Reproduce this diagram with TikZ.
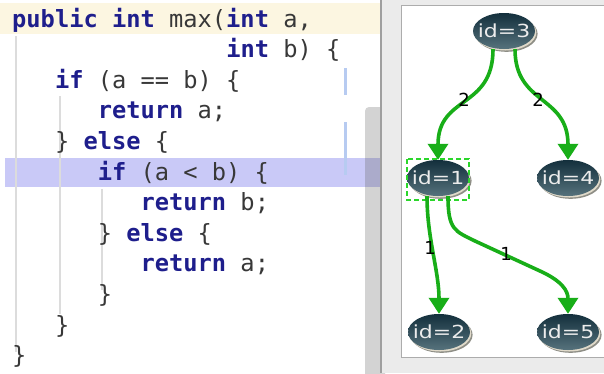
\documentclass[tikz,border=0pt]{standalone}
\usepackage{fontspec}
\usetikzlibrary{arrows.meta,shapes.geometric}
\newfontfamily\codefont{DejaVu Sans Mono}
\newfontfamily\graphfont{DejaVu Sans}
\definecolor{kwc}{HTML}{1E1E8C}
\definecolor{txt}{HTML}{383838}
\definecolor{curline}{HTML}{FCF6E1}
\definecolor{selline}{HTML}{C9C9F7}
\definecolor{selbar}{HTML}{ABABCB}
\definecolor{sbar}{HTML}{D3D3D3}
\definecolor{frame}{HTML}{EBEBEB}
\definecolor{guide}{HTML}{DCDCDC}
\definecolor{chgmark}{HTML}{B7CBF1}
\definecolor{edgec}{HTML}{18AE18}
\definecolor{selc}{HTML}{2BD62B}
\definecolor{nodetop}{HTML}{132F3C}
\definecolor{nodebot}{HTML}{56727C}
\definecolor{rim}{HTML}{E0DACA}
\definecolor{shade}{HTML}{8E8E86}
\newcommand\kwd[1]{\textcolor{kwc}{\bfseries #1}}
\newcommand\idtext[1]{\makebox[0pt]{\scalebox{1.22}[1]{#1}}}
\tikzset{
  codeline/.style={anchor=base west, inner sep=0pt, text=txt,
    font=\codefont\fontsize{23.7}{28}\selectfont},
  vbase/.style={ellipse, minimum width=62pt, minimum height=36pt, inner sep=0pt},
  vnode/.style={vbase, top color=nodetop, bottom color=nodebot,
    text=white!85!gray, font=\graphfont\fontsize{18}{20}\selectfont},
  vshadow/.style={vbase, fill=shade},
  vrim/.style={vbase, fill=rim},
  flow/.style={draw=edgec, line width=3.6pt, -{Triangle[width=20pt,length=16pt]}},
  weight/.style={inner sep=0pt, text=black, font=\graphfont\fontsize{18}{20}\selectfont},
}
\begin{document}
\begin{tikzpicture}[x=1pt,y=-1pt]
\useasboundingbox (0,0) rectangle (604,373);
% editor background
\fill[white] (0,0) rectangle (604,373);
\fill[curline] (0,3) rectangle (380,34);
\fill[selline] (5,158) rectangle (365,187);
\fill[sbar,rounded corners=4pt] (365,107) rectangle (385,380);
\fill[selbar] (365,158) rectangle (380,187);
\fill[frame] (380,0) rectangle (604,373);
\draw[gray!75,line width=1.5pt] (381,0) -- (381,373);
% graph view frame
\draw[fill=white,draw=gray!65,line width=1pt] (401,5) rectangle (612,357);
% indent guides
\draw[guide,line width=1.2pt] (16,36) -- (16,352);
\draw[guide,line width=1.2pt] (60,96) -- (60,314);
\draw[guide,line width=1.2pt] (102,189) -- (102,290);
% change markers
\draw[chgmark,line width=3pt] (345,68) -- (345,95);
\draw[chgmark,line width=3pt] (345,122) -- (345,175);
% source code
\node[codeline] (l1) at (12,27) {\kwd{public} \kwd{int} max(\kwd{int} a,};
\node[codeline] (l2) at (226.1,57.6) {\kwd{int} b) \{};
\node[codeline] (l3) at (54.8,88.2) {\kwd{if} (a == b) \{};
\node[codeline] (l4) at (97.6,118.8) {\kwd{return} a;};
\node[codeline] (l5) at (54.8,149.4) {\} \kwd{else} \{};
\node[codeline] (l6) at (97.6,180) {\kwd{if} (a < b) \{};
\node[codeline] (l7) at (140.4,210.6) {\kwd{return} b;};
\node[codeline] (l8) at (97.6,241.2) {\} \kwd{else} \{};
\node[codeline] (l9) at (140.4,271.8) {\kwd{return} a;};
\node[codeline] (l10) at (97.6,302.4) {\}};
\node[codeline] (l11) at (54.8,333) {\}};
\node[codeline] (l12) at (12,363.6) {\}};
% graph vertices: grey shadow, pale rim, shaded body
\foreach \x/\y in {504/31,438/178,568/178,439/332,568/332}{
  \node[vshadow] at (\x+2.6,\y+2.8) {};
  \node[vrim] at (\x+1.3,\y+1.5) {};
}
\node[vnode] (n3) at (504,31) {\idtext{id=3}};
\node[vnode] (n1) at (438,178) {\idtext{id=1}};
\node[vnode] (n4) at (568,178) {\idtext{id=4}};
\node[vnode] (n2) at (439,332) {\idtext{id=2}};
\node[vnode] (n5) at (568,332) {\idtext{id=5}};
\draw[selc,line width=1.6pt,dash pattern=on 5pt off 3pt] (407,159) rectangle (469,200);
% graph edges
\draw[flow] ([xshift=-11pt]n3.south) .. controls +(0,60) and +(0,-65) .. (n1.north);
\draw[flow] ([xshift=11pt]n3.south) .. controls +(0,56) and +(0,-65) .. (n4.north);
\draw[flow] ([xshift=-11pt]n1.south) .. controls +(0,42) and +(0,-43) .. (n2.north);
\draw[flow] ([xshift=10pt]n1.south) .. controls +(0,34) and +(-20,-10) .. (475,241)
   -- (540,271) .. controls +(22,10) and +(0,-23) .. (n5.north);
% edge weights
\node[weight] (w31) at (464,100) {2};
\node[weight] (w34) at (538,100) {2};
\node[weight] (w12) at (430,248) {1};
\node[weight] (w15) at (506,254) {1};
\end{tikzpicture}
\end{document}
